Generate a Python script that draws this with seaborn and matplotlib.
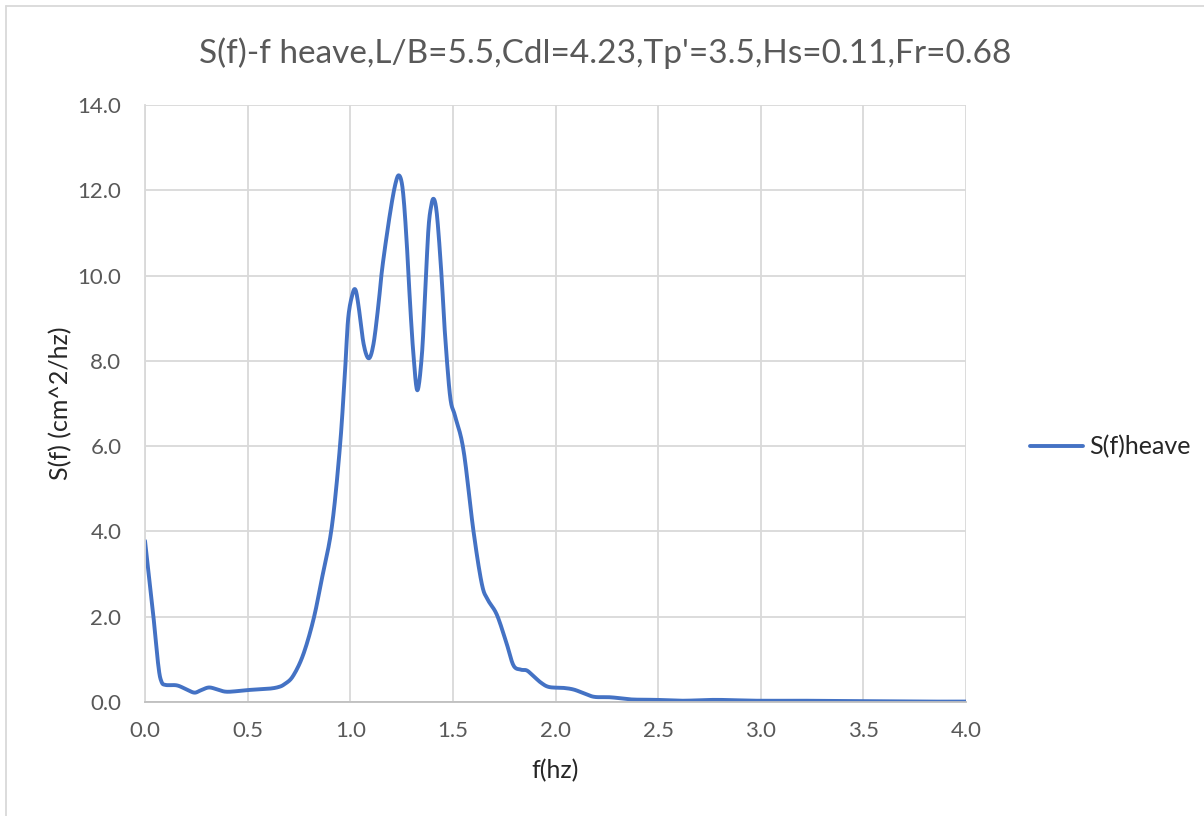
import matplotlib
matplotlib.use("Agg")
import matplotlib.pyplot as plt
from matplotlib.lines import Line2D
import numpy as np
import pandas as pd
import seaborn as sns

# Heave response spectrum S(f) versus frequency f
freq_hz = [0.00, 0.04, 0.065, 0.08, 0.10, 0.155, 0.20, 0.24, 0.27, 0.31, 0.35, 0.40,
           0.50, 0.60, 0.65, 0.68, 0.72, 0.77, 0.82, 0.86, 0.91, 0.95, 0.975, 0.99,
           1.01, 1.025, 1.04, 1.065, 1.09, 1.113, 1.137, 1.154, 1.178, 1.202, 1.22,
           1.235, 1.25, 1.262, 1.276, 1.292, 1.308, 1.327, 1.349, 1.365, 1.381, 1.395,
           1.406, 1.418, 1.43, 1.446, 1.462, 1.487, 1.511, 1.552, 1.60, 1.641, 1.67,
           1.714, 1.76, 1.795, 1.83, 1.86, 1.89, 1.93, 1.97, 2.04, 2.09, 2.14, 2.19,
           2.27, 2.37, 2.49, 2.62, 2.78, 2.98, 3.20, 3.50, 3.80, 4.00]
s_heave = [3.78, 2.05, 0.85, 0.48, 0.40, 0.39, 0.30, 0.22, 0.27, 0.34, 0.30, 0.24,
           0.28, 0.31, 0.35, 0.42, 0.60, 1.10, 1.92, 2.85, 4.10, 6.00, 7.80, 9.00,
           9.55, 9.67, 9.30, 8.40, 8.06, 8.39, 9.30, 10.10, 10.95, 11.70, 12.15,
           12.35, 12.20, 11.70, 10.70, 9.30, 8.14, 7.31, 8.14, 9.60, 11.10, 11.65,
           11.80, 11.60, 11.00, 9.90, 8.60, 7.15, 6.70, 5.90, 4.02, 2.77, 2.40,
           2.05, 1.40, 0.86, 0.76, 0.74, 0.62, 0.45, 0.35, 0.33, 0.29, 0.20, 0.12,
           0.11, 0.06, 0.05, 0.03, 0.05, 0.03, 0.03, 0.02, 0.01, 0.01]

x_ticks = [0.0, 0.5, 1.0, 1.5, 2.0, 2.5, 3.0, 3.5, 4.0]
y_ticks = [0.0, 2.0, 4.0, 6.0, 8.0, 10.0, 12.0, 14.0]


def smooth_line(x, y, steps=12):
    """Smoothed-line rendering: cubic Bezier segments with Catmull-Rom handles."""
    p = np.column_stack([x, y]).astype(float)
    ext = np.vstack([p[0], p, p[-1]])
    t = np.linspace(0, 1, steps, endpoint=False)[:, None]
    out = []
    for i in range(len(p) - 1):
        p0, p1, p2, p3 = ext[i], ext[i + 1], ext[i + 2], ext[i + 3]
        c1 = p1 + (p2 - p0) / 6.0
        c2 = p2 - (p3 - p1) / 6.0
        seg = ((1 - t) ** 3) * p1 + 3 * ((1 - t) ** 2) * t * c1 \
            + 3 * (1 - t) * t ** 2 * c2 + t ** 3 * p2
        out.append(seg)
    out.append(p[-1][None, :])
    out = np.vstack(out)
    return out[:, 0], out[:, 1]


fx, fy = smooth_line(freq_hz, s_heave)
df = pd.DataFrame({"f": fx, "S": fy, "series": "S(f)heave"})

sns.set_theme(style="white")
plt.rcParams["font.family"] = ["Lato", "DejaVu Sans"]

fig = plt.figure(figsize=(12.04, 8.16), dpi=100)
ax = fig.add_axes([145 / 1204, 1 - 702 / 816, (966 - 145) / 1204, (702 - 105) / 816])

sns.lineplot(data=df, x="f", y="S", hue="series", palette=["#4472C4"],
             estimator=None, sort=False, linewidth=2.8, ax=ax)
ax.lines[0].set_solid_joinstyle("round")
ax.lines[0].set_solid_capstyle("round")

ax.set_xlim(0, 4.0)
ax.set_ylim(0, 14.0)
ax.set_xticks(x_ticks)
ax.set_yticks(y_ticks)
ax.set_xticklabels([f"{v:.1f}" for v in x_ticks])
ax.set_yticklabels([f"{v:.1f}" for v in y_ticks])
ax.tick_params(axis="both", length=0, labelsize=16, colors="#595959")
ax.tick_params(axis="y", pad=17)
ax.tick_params(axis="x", pad=14)

ax.grid(True, color="#d9d9d9", linewidth=1.3)
ax.set_axisbelow(True)
for side in ("top", "right"):
    ax.spines[side].set_visible(False)
ax.spines["left"].set_color("#d9d9d9")
ax.spines["left"].set_linewidth(1.3)
ax.spines["bottom"].set_color("#bfbfbf")
ax.spines["bottom"].set_linewidth(1.3)

ax.set_xlabel("f(hz)", fontsize=18, color="#262626", labelpad=13)
ax.set_ylabel("S(f) (cm^2/hz)", fontsize=18, color="#262626", labelpad=4)

fig.text(0.5025, 1 - 53 / 816,
         "S(f)-f heave,L/B=5.5,Cdl=4.23,Tp'=3.5,Hs=0.11,Fr=0.68",
         ha="center", va="center", fontsize=24, color="#595959")

leg = ax.legend(loc="center left", bbox_to_anchor=(1030 / 1204, 1 - 447 / 816),
                bbox_transform=fig.transFigure, frameon=False, fontsize=18,
                handlelength=2.1, handletextpad=0.25, borderaxespad=0, borderpad=0)
for t in leg.get_texts():
    t.set_color("#262626")

# chart area outline
fig.add_artist(Line2D([6 / 1204, 6 / 1204], [0, 1 - 6 / 816],
                      transform=fig.transFigure, color="#d9d9d9", linewidth=1.3))
fig.add_artist(Line2D([6 / 1204, 1], [1 - 6 / 816, 1 - 6 / 816],
                      transform=fig.transFigure, color="#d9d9d9", linewidth=1.3))

fig.savefig("out.png", dpi=100, facecolor="white")
